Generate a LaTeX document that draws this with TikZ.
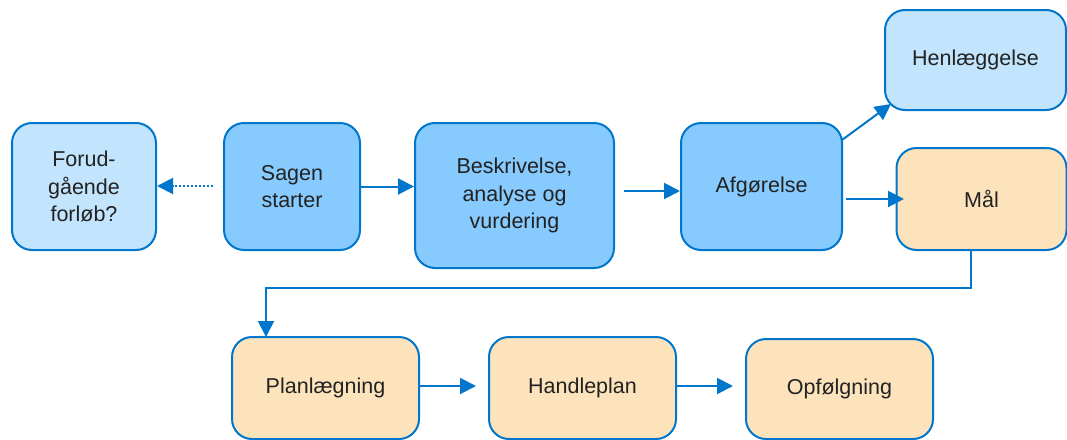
\documentclass[tikz,border=0pt]{standalone}
\usepackage{fontspec}
\setmainfont{Liberation Sans}
\usetikzlibrary{arrows.meta}
\definecolor{lineblue}{RGB}{0,119,204}
\definecolor{darkfill}{RGB}{135,202,254}
\definecolor{lightfill}{RGB}{194,229,253}
\definecolor{orangefill}{RGB}{253,227,188}
\definecolor{txt}{RGB}{34,34,34}
\begin{document}
\begin{tikzpicture}[x=1pt,y=-1pt,
  box/.style={draw=lineblue, line width=2pt, rounded corners=20pt, align=center,
    text=txt, font=\fontsize{21.5}{27.5}\selectfont, inner sep=0pt},
  dark/.style={box, fill=darkfill},
  light/.style={box, fill=lightfill},
  orange/.style={box, fill=orangefill},
  conn/.style={draw=lineblue, line width=2pt, -{Triangle[length=16pt,width=16pt]}}
]
\useasboundingbox (0,0) rectangle (1067,439);
\begin{scope}
\clip (0,0) rectangle (1067,439);
\node[light, minimum width=144pt, minimum height=127pt] (forud) at (84,186.5) {Forud-\\gående\\forløb?};
\node[dark, minimum width=136pt, minimum height=127pt] (sagen) at (292,186.5) {Sagen\\starter};
\node[dark, minimum width=199pt, minimum height=145pt] (besk) at (514.5,195.5) {Beskrivelse,\\analyse og\\vurdering};
\node[dark, minimum width=161pt, minimum height=127pt] (afg) at (761.5,186.5) {Afgørelse};
\node[light, minimum width=181pt, minimum height=100pt] (henl) at (975.5,60) {Henlæggelse};
\node[orange, minimum width=170pt, minimum height=102pt] (mal) at (981.5,199) {Mål};
\node[orange, minimum width=187pt, minimum height=102pt] (plan) at (325.5,388) {Planlægning};
\node[orange, minimum width=187pt, minimum height=102pt] (hand) at (582.5,388) {Handleplan};
\node[orange, minimum width=187pt, minimum height=100pt] (opf) at (839.5,389) {Opfølgning};
\end{scope}

\coordinate (dotstart) at (213,186);
\coordinate (beskout) at (624,191);
\coordinate (afgtop) at (842,140);
\coordinate (henlin) at (891,104);
\coordinate (afgout) at (846,199);
\coordinate (malin) at (904,199);
\coordinate (malout) at (971,250);
\coordinate (planin) at (266,337);
\coordinate (handin) at (476,386);
\coordinate (opfin) at (733,386);

\draw[conn, dotted] (dotstart) -- (forud.east |- dotstart);
\draw[conn] (sagen.east) -- (besk.west |- sagen.east);
\draw[conn] (beskout) -- (afg.west |- beskout);
\draw[conn] (afgtop) -- (henlin);
\draw[conn] (afgout) -- (malin);
\draw[conn] (malout) -- ++(0,38) -| (planin);
\draw[conn] (plan.east |- handin) -- (handin);
\draw[conn] (hand.east |- opfin) -- (opfin);
\end{tikzpicture}
\end{document}
